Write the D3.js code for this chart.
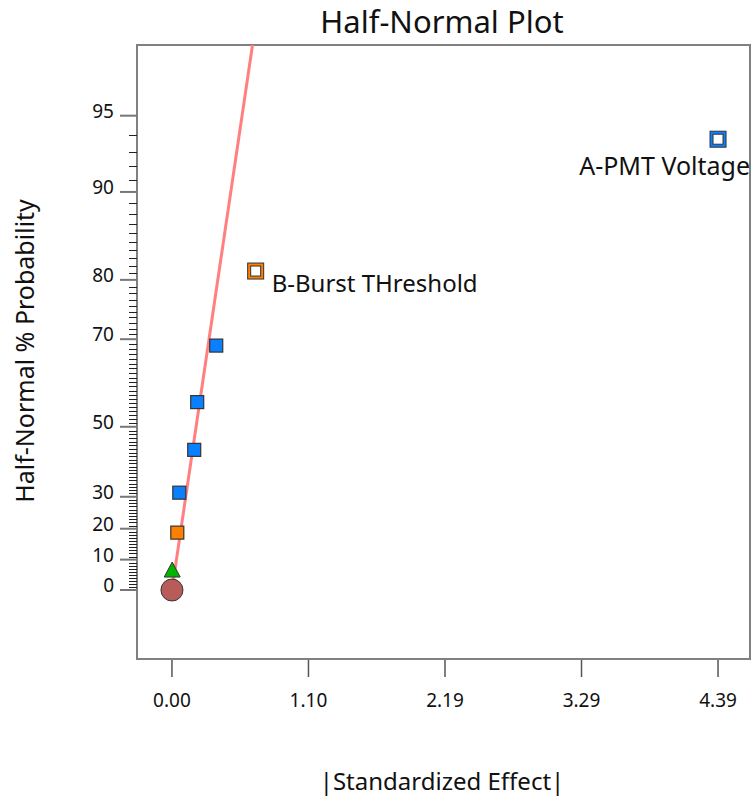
<!DOCTYPE html>
<html>
<head>
<meta charset="utf-8">
<script src="https://cdn.jsdelivr.net/npm/d3@7"></script>
<style>
	body { margin: 0; background: #fff; }
	text { font-family: "Noto Sans", "Open Sans", sans-serif; fill: #111; }
</style>
</head>
<body>
<div id="chart"></div>
<script>
let width = 752
let height = 798

// effects: |standardized effect| and half-normal % probability
let effectNames = ['A-PMT Voltage', 'B-Burst THreshold', '', '', '', '', '', '']
let effectValues = [4.39, 0.673, 0.356, 0.203, 0.179, 0.059, 0.043, 0.002]
let effectProbs = [93.75, 81.25, 68.75, 56.25, 43.75, 31.25, 18.75, 6.25]
let effectKinds = ['bigBlue', 'bigOrange', 'blue', 'blue', 'blue', 'blue', 'orange', 'green']

let originPoint = [0, 0]
let fitLine = [[0, 0], [0.649, 97.6]]

let yTickValues = [0, 10, 20, 30, 50, 70, 80, 90, 95]
let xTickValues = [0, 1.0975, 2.195, 3.2925, 4.39]

let margins = {
	'top': 45,
	'right': 2,
	'bottom': 139,
	'left': 137,
}

let colors = {
	'blue': '#0a80ff',
	'orange': '#ff8000',
	'green': '#00b400',
	'circle': '#b85c5a',
	'line': '#ff8080',
	'frame': '#808080',
}

function normInv(p) {
	// Acklam's approximation
	let a = [-39.69683028665376, 220.9460984245205, -275.9285104469687, 138.3577518672690, -30.66479806614716, 2.506628277459239]
	let b = [-54.47609879822406, 161.5858368580409, -155.6989798598866, 66.80131188771972, -13.28068155288572]
	let c = [-0.007784894002430293, -0.3223964580411365, -2.400758277161838, -2.549732539343734, 4.374664141464968, 2.938163982698783]
	let d = [0.007784695709041462, 0.3224671290700398, 2.445134137142996, 3.754408661907416]
	let plow = 0.02425
	let q, r
	if (p < plow) {
		q = Math.sqrt(-2 * Math.log(p))
		return (((((c[0]*q+c[1])*q+c[2])*q+c[3])*q+c[4])*q+c[5]) / ((((d[0]*q+d[1])*q+d[2])*q+d[3])*q+1)
	}
	if (p <= 1 - plow) {
		q = p - 0.5
		r = q * q
		return (((((a[0]*r+a[1])*r+a[2])*r+a[3])*r+a[4])*r+a[5])*q / (((((b[0]*r+b[1])*r+b[2])*r+b[3])*r+b[4])*r+1)
	}
	q = Math.sqrt(-2 * Math.log(1 - p))
	return -(((((c[0]*q+c[1])*q+c[2])*q+c[3])*q+c[4])*q+c[5]) / ((((d[0]*q+d[1])*q+d[2])*q+d[3])*q+1)
}

// half-normal quantile of a % probability
let hn = (p) => p <= 0 ? 0 : normInv(0.5 + p / 200)

let innerW = width - margins.left - margins.right
let innerH = height - margins.top - margins.bottom

let xScale = d3.scaleLinear()
	.domain([-0.281, 4.647])
	.range([0, innerW])

let zScale = d3.scaleLinear()
	.domain([-0.285, 2.252])
	.range([innerH, 0])

let yPos = (p) => zScale(hn(p))

let svg = d3.select('#chart').append('svg')
	.attr('width', width)
	.attr('height', height)

svg.append('text')
	.attr('x', 442)
	.attr('y', 33)
	.attr('text-anchor', 'middle')
	.style('font-size', '31px')
	.text('Half-Normal Plot')

let inner = svg.append('g')
	.attr('transform', 'translate(' + margins.left + ',' + margins.top + ')')

inner.append('clipPath').attr('id', 'clip')
	.append('rect').attr('width', innerW).attr('height', innerH)

// frame
inner.append('rect')
	.attr('width', innerW)
	.attr('height', innerH)
	.attr('fill', 'none')
	.attr('stroke', colors.frame)
	.attr('stroke-width', 2)

// y axis: minor ticks every 1%
let minorTicks = d3.range(0, 96).filter((v) => yTickValues.indexOf(v) < 0)
inner.append('g').selectAll('line')
	.data(minorTicks)
	.enter().append('line')
	.attr('x1', -8).attr('x2', 0)
	.attr('y1', (d) => Math.round(yPos(d)) + 0.5)
	.attr('y2', (d) => Math.round(yPos(d)) + 0.5)
	.attr('stroke', '#222')
	.attr('stroke-width', 1)

let yAxis = inner.append('g')
yAxis.selectAll('line')
	.data(yTickValues)
	.enter().append('line')
	.attr('x1', -17).attr('x2', 0)
	.attr('y1', (d) => yPos(d))
	.attr('y2', (d) => yPos(d))
	.attr('stroke', '#777')
	.attr('stroke-width', 2)
yAxis.selectAll('text')
	.data(yTickValues)
	.enter().append('text')
	.attr('x', -23)
	.attr('y', (d) => yPos(d))
	.attr('dy', '0.1em')
	.attr('text-anchor', 'end')
	.style('font-size', '19px')
	.text((d) => d)

// x axis
let xAxis = inner.append('g').attr('transform', 'translate(0,' + innerH + ')')
xAxis.selectAll('line')
	.data(xTickValues)
	.enter().append('line')
	.attr('x1', (d) => xScale(d)).attr('x2', (d) => xScale(d))
	.attr('y1', 1).attr('y2', 18)
	.attr('stroke', '#555')
	.attr('stroke-width', 1.5)
xAxis.selectAll('text')
	.data(xTickValues)
	.enter().append('text')
	.attr('x', (d) => xScale(d))
	.attr('y', 48)
	.attr('text-anchor', 'middle')
	.style('font-size', '19px')
	.text((d) => d.toFixed(2))

svg.append('text')
	.attr('x', 442)
	.attr('y', 790)
	.attr('text-anchor', 'middle')
	.style('font-size', '24px')
	.text('|Standardized Effect|')

svg.append('text')
	.attr('transform', 'translate(34,351) rotate(-90)')
	.attr('text-anchor', 'middle')
	.style('font-size', '25px')
	.text('Half-Normal % Probability')

// fitted line
let marks = inner.append('g').attr('clip-path', 'url(#clip)')
marks.append('line')
	.attr('x1', xScale(fitLine[0][0]))
	.attr('y1', yPos(fitLine[0][1]))
	.attr('x2', xScale(fitLine[1][0]))
	.attr('y2', yPos(fitLine[1][1]))
	.attr('stroke', colors.line)
	.attr('stroke-width', 3)

// origin circle
marks.append('circle')
	.attr('cx', xScale(originPoint[0]))
	.attr('cy', yPos(originPoint[1]))
	.attr('r', 11)
	.attr('fill', colors.circle)
	.attr('stroke', '#333')
	.attr('stroke-width', 1)

let data = effectValues.map((v, i) => ({
	value: v, prob: effectProbs[i], kind: effectKinds[i], name: effectNames[i]
}))

data.forEach((d) => {
	let cx = xScale(d.value)
	let cy = yPos(d.prob)
	if (d.kind == 'green') {
		marks.append('path')
			.attr('d', `M${cx},${cy - 9}L${cx + 8},${cy + 6}L${cx - 8},${cy + 6}Z`)
			.attr('fill', colors.green)
			.attr('stroke', '#333')
			.attr('stroke-width', 1)
	} else if (d.kind == 'blue' || d.kind == 'orange') {
		marks.append('rect')
			.attr('x', cx - 6.5).attr('y', cy - 6.5)
			.attr('width', 13).attr('height', 13)
			.attr('fill', colors[d.kind])
			.attr('stroke', '#333')
			.attr('stroke-width', 1.2)
	} else {
		let c = d.kind == 'bigBlue' ? colors.blue : colors.orange
		marks.append('rect')
			.attr('x', cx - 8).attr('y', cy - 8)
			.attr('width', 16).attr('height', 16)
			.attr('fill', c)
			.attr('stroke', '#333')
			.attr('stroke-width', 1)
		marks.append('rect')
			.attr('x', cx - 5).attr('y', cy - 5)
			.attr('width', 10).attr('height', 10)
			.attr('fill', '#fff')
			.attr('stroke', '#333')
			.attr('stroke-width', 1)
	}
})

// effect labels
inner.append('text')
	.attr('x', xScale(effectValues[1]) + 16)
	.attr('y', yPos(effectProbs[1]) + 21)
	.style('font-size', '24px')
	.text(effectNames[1])

inner.append('text')
	.attr('x', xScale(effectValues[0]) + 32)
	.attr('y', yPos(effectProbs[0]) + 36)
	.attr('text-anchor', 'end')
	.style('font-size', '25px')
	.text(effectNames[0])
</script>
</body>
</html>
